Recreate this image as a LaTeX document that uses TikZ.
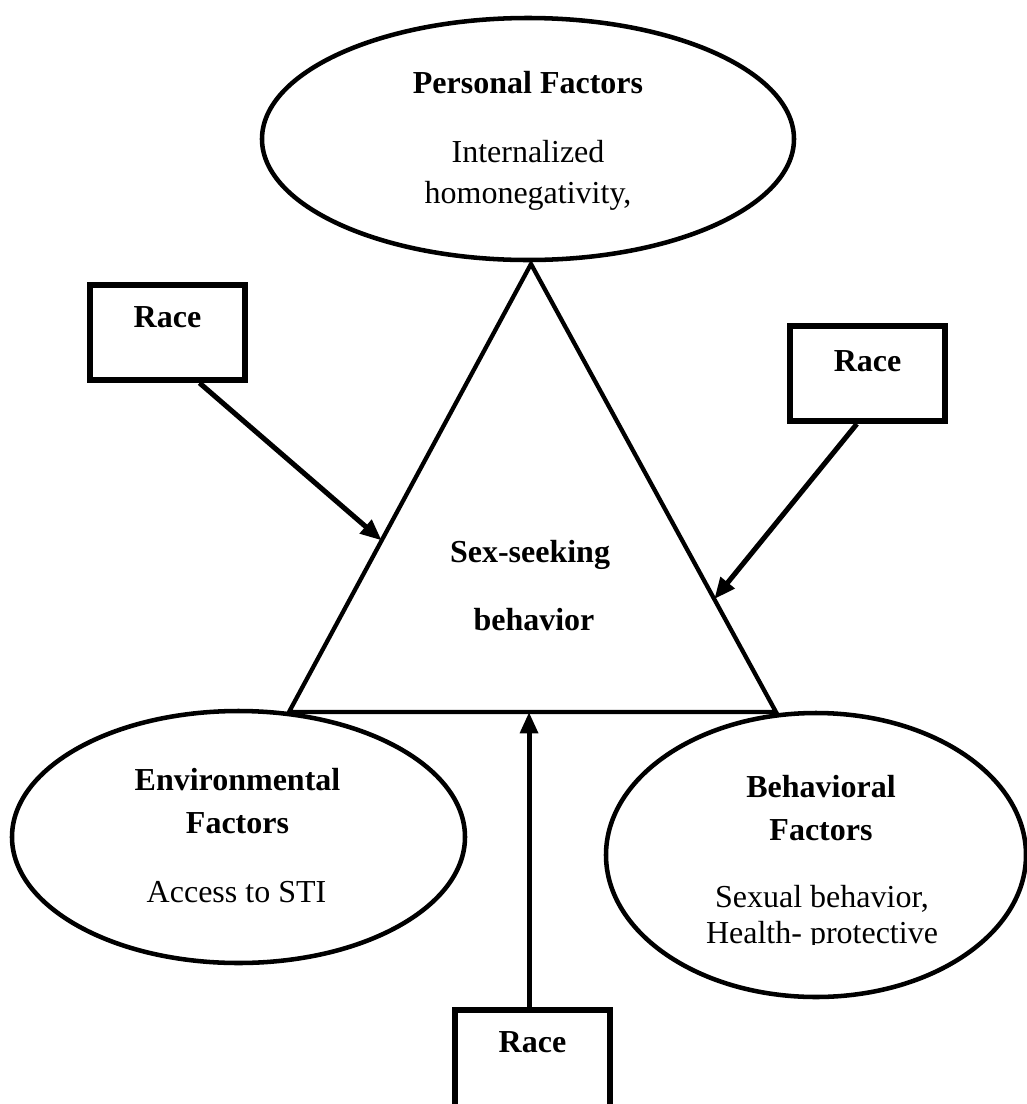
\documentclass[tikz,border=0pt]{standalone}
\usepackage{fontspec}
\setmainfont{Liberation Serif}
\usetikzlibrary{shapes.geometric,arrows.meta,calc}
\tikzset{
  factor/.style={draw,ellipse,line width=3.4pt,inner sep=0pt},
  racebox/.style={draw,rectangle,line width=4.4pt,inner sep=0pt,minimum width=116pt,
    font=\fontsize{24}{28}\selectfont\bfseries,anchor=base},
  head/.style={font=\fontsize{24}{28}\selectfont\bfseries,anchor=base},
  body/.style={font=\fontsize{24}{28}\selectfont,anchor=base},
  link/.style={line width=3.8pt,-{Triangle[length=16pt,width=13pt]}}
}

\begin{document}
\begin{tikzpicture}[x=0.75pt,y=-0.75pt]
\useasboundingbox (0,0) rectangle (1027,1104);

\node[factor,minimum width=399pt,minimum height=181.5pt] (pers) at (528,139) {};
\node[factor,minimum width=339.75pt,minimum height=189pt] (env) at (238.5,837) {};
\node[factor,minimum width=315pt,minimum height=213pt] (behav) at (816,855) {};

\coordinate (apex) at (531,264);
\coordinate (bl) at (289,712);
\coordinate (br) at (776,712);
\draw[line width=3.2pt] (apex) -- (bl) -- (br) -- cycle;

\node[head] (persT) at (528,93) {Personal Factors};
\node[body] (persA) at (528,162) {Internalized};
\node[body] (persB) at (528,203) {homonegativity,};

\node[head] (sexA) at (530,562) {Sex-seeking};
\node[head] (sexB) at (534,630) {behavior};

\node[head] (envT) at (237.5,790) {Environmental};
\node[head] (envF) at (237.5,833) {Factors};
\node[body] (envA) at (236.5,902) {Access to STI};

\node[head] (behavT) at (821,797) {Behavioral};
\node[head] (behavF) at (821,840) {Factors};
\node[body] (behavA) at (822,907) {Sexual behavior,};
\begin{scope}
\clip (600,900) rectangle (1040,944);
\node[body] (behavB) at (822,943) {Health- protective};
\end{scope}

\node[racebox,text height=31.5pt,text depth=39.75pt] (raceL) at (167.5,327) {Race};
\node[racebox,text height=33.75pt,text depth=37.5pt] (raceR) at (867.5,371) {Race};
\node[racebox,text height=31.5pt,text depth=80pt] (raceB) at (532.5,1052) {Race};

\coordinate (tipL) at ($(apex)!0.617!(bl)$);
\coordinate (tipR) at ($(apex)!0.748!(br)$);
\draw[link] ([xshift=24pt]raceL.south) -- (tipL);
\draw[link] ([xshift=-8pt]raceR.south) -- (tipR);
\draw[link] ([xshift=-2.6pt]raceB.north) -- ([xshift=-2.6pt]raceB.north |- bl);
\end{tikzpicture}
\end{document}
